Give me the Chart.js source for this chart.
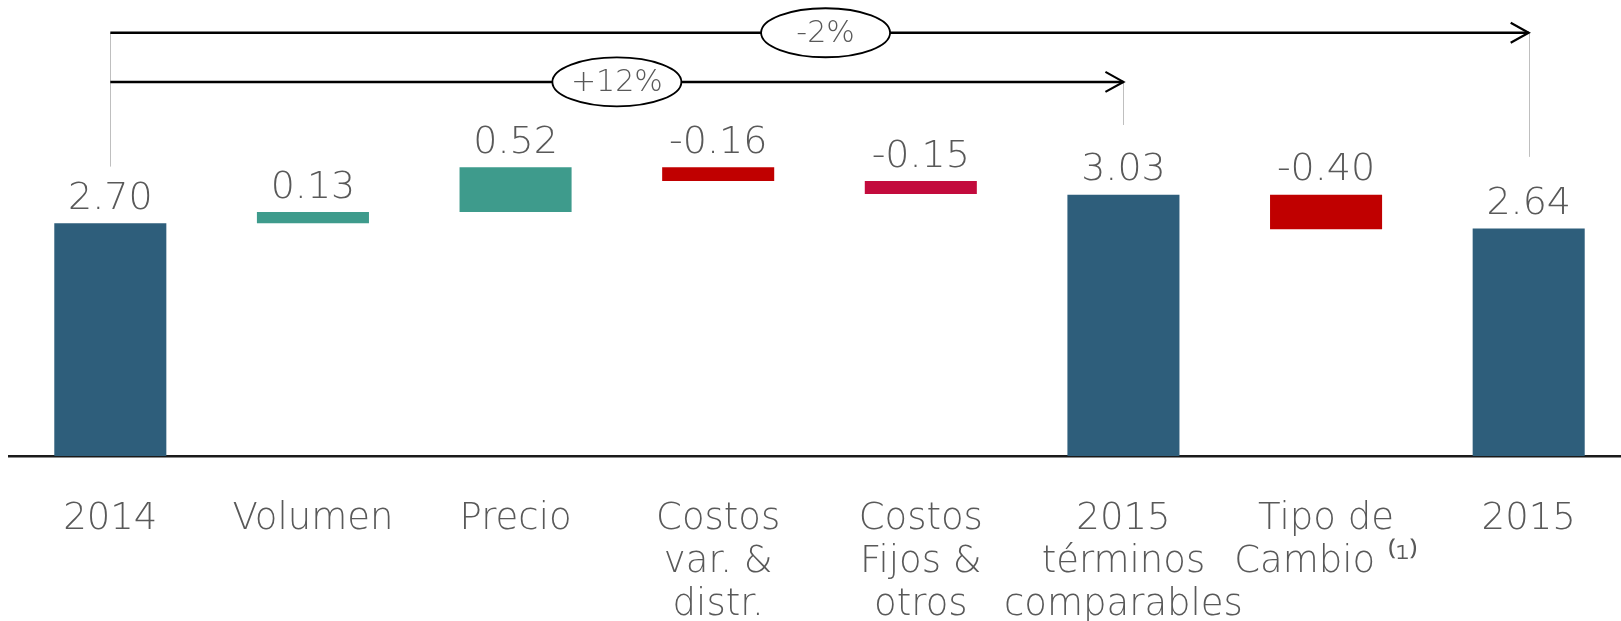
<!DOCTYPE html>
<html><head><meta charset="utf-8">
<script src="https://cdn.jsdelivr.net/npm/chart.js@4.4.1/dist/chart.umd.min.js"></script>
<style>
html,body{margin:0;padding:0;background:#fff;overflow:hidden;width:1621px;height:621px}
#wrap{position:absolute;left:0;top:0;width:1630px;height:621px}
canvas{display:block}
</style></head>
<body><div id="wrap"><canvas id="c" width="1630" height="621"></canvas></div>
<script>
// ---- data ----
const categories = [
  '2014',
  'Volumen',
  'Precio',
  ['Costos', 'var. &', 'distr.'],
  ['Costos', 'Fijos &', 'otros'],
  ['2015', 'términos', 'comparables'],
  ['Tipo de', 'Cambio ⁽¹⁾'],
  '2015'
];
const values = [2.70, 0.13, 0.52, -0.16, -0.15, 3.03, -0.40, 2.64];
const isTotal = [true, false, false, false, false, true, false, true];
const bridgeLabels = ['-2%', '+12%'];
const bridgeFrom = [0, 0];
const bridgeTo = [7, 5];

// ---- styles / annotation placement ----
const barColors = ['#2E5E7B', '#3E9B8C', '#3E9B8C', '#C00000', '#C30B3D', '#2E5E7B', '#C00000', '#2E5E7B'];
const textGray = '#595959';
const FONT = "'DejaVu Sans'";
const bridgeLevels = [4.91, 4.34];      // arrow heights (value units)
const bridgeFromStop = [3.36, 3.36];    // leader line bottoms (value units)
const bridgeToStop = [3.47, 3.84];
const bridgeLabelAt = [3.53, 2.5];      // ellipse centre along category axis

// waterfall ranges built from values
const ranges = [];
let running = 0;
values.forEach((v, i) => {
  if (isTotal[i]) { ranges.push([0, v]); running = v; }
  else { const a = running, b = +(running + v).toFixed(4); ranges.push([Math.min(a, b), Math.max(a, b)]); running = b; }
});

const labelPlugin = {
  id: 'valueLabels',
  afterDatasetsDraw(chart) {
    const ctx = chart.ctx, meta = chart.getDatasetMeta(0);
    ctx.save();
    ctx.font = `200 38px ${FONT}`;
    ctx.fillStyle = textGray;
    ctx.textAlign = 'center';
    ctx.textBaseline = 'alphabetic';
    meta.data.forEach((bar, i) => {
      const top = Math.min(bar.y, bar.base);
      ctx.fillText(values[i].toFixed(2), bar.x, top - 14.5);
    });
    ctx.restore();
  }
};

const bridgePlugin = {
  id: 'bridges',
  afterDraw(chart) {
    const ctx = chart.ctx, xs = chart.scales.x, ys = chart.scales.y;
    ctx.save();
    // leader lines
    ctx.strokeStyle = '#BFBFBF';
    ctx.lineWidth = 1;
    bridgeLabels.forEach((t, k) => {
      const y = ys.getPixelForValue(bridgeLevels[k]);
      const x0 = Math.round(xs.getPixelForValue(bridgeFrom[k])) + 0.5;
      const x1 = Math.round(xs.getPixelForValue(bridgeTo[k])) + 0.5;
      ctx.beginPath();
      ctx.moveTo(x0, y); ctx.lineTo(x0, ys.getPixelForValue(bridgeFromStop[k]));
      ctx.moveTo(x1, y); ctx.lineTo(x1, ys.getPixelForValue(bridgeToStop[k]));
      ctx.stroke();
    });
    // arrows
    bridgeLabels.forEach((t, k) => {
      const y = ys.getPixelForValue(bridgeLevels[k]);
      const x0 = xs.getPixelForValue(bridgeFrom[k]);
      const x1 = xs.getPixelForValue(bridgeTo[k]);
      ctx.strokeStyle = '#000';
      ctx.lineWidth = 2.5;
      ctx.beginPath(); ctx.moveTo(x0, y); ctx.lineTo(x1, y); ctx.stroke();
      ctx.lineWidth = 2.2;
      ctx.beginPath(); ctx.moveTo(x1 - 18, y - 10); ctx.lineTo(x1, y); ctx.lineTo(x1 - 18, y + 10); ctx.stroke();
      const cx = xs.getPixelForValue(bridgeLabelAt[k]);
      ctx.beginPath();
      ctx.ellipse(cx, y, 64.5, 24.5, 0, 0, Math.PI * 2);
      ctx.fillStyle = '#fff'; ctx.fill();
      ctx.lineWidth = 1.8; ctx.strokeStyle = '#000'; ctx.stroke();
      ctx.fillStyle = textGray;
      ctx.font = `200 30px ${FONT}`;
      ctx.textAlign = 'center'; ctx.textBaseline = 'middle';
      ctx.fillText(t, cx, y + 1);
    });
    ctx.restore();
  }
};

new Chart(document.getElementById('c'), {
  type: 'bar',
  data: {
    labels: categories,
    datasets: [{
      data: ranges,
      backgroundColor: barColors,
      borderWidth: 0,
      barPercentage: 0.553,
      categoryPercentage: 1
    }]
  },
  options: {
    responsive: false,
    animation: false,
    layout: { padding: { left: 9, right: 0, top: 0, bottom: 0 } },
    plugins: { legend: { display: false }, tooltip: { enabled: false } },
    scales: {
      x: {
        grid: { display: false },
        border: { display: true, color: '#1a1a1a', width: 2.5 },
        ticks: {
          color: textGray,
          font: { family: FONT, size: 37, weight: 200, lineHeight: '43px' },
          padding: 34,
          autoSkip: false, maxRotation: 0, minRotation: 0
        },
        afterFit: s => { s.height = 165; }
      },
      y: { display: false, min: 0, max: 5.29 }
    }
  },
  plugins: [labelPlugin, bridgePlugin]
});
</script>
</body></html>
